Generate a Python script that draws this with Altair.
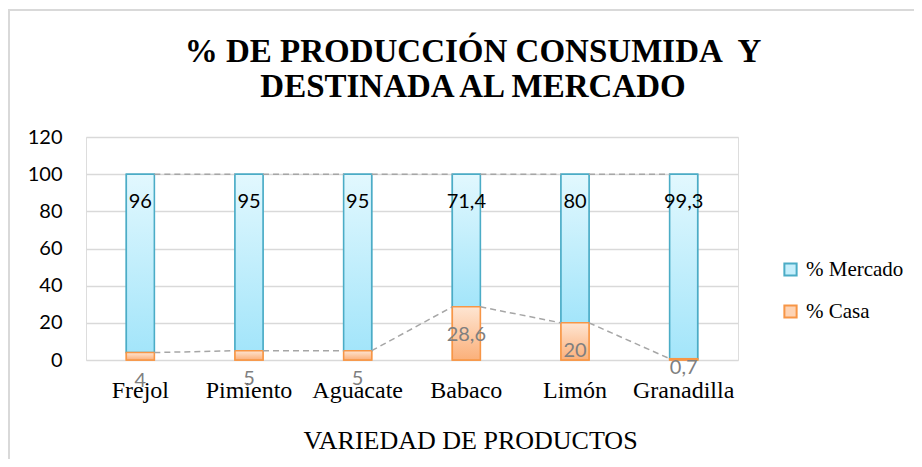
import altair as alt
import pandas as pd

productos = ["Frejol", "Pimiento", "Aguacate", "Babaco", "Limón", "Granadilla"]
mercado = [96, 95, 95, 71.4, 80, 99.3]
casa = [4, 5, 5, 28.6, 20, 0.7]
series = ["% Mercado", "% Casa"]
titulo = ["% DE PRODUCCIÓN CONSUMIDA \u00a0Y", "DESTINADA AL MERCADO"]
y_ticks = [0, 20, 40, 60, 80, 100, 120]

df = pd.DataFrame({"producto": productos, "mercado": mercado, "casa": casa})
df["total"] = (df["mercado"] + df["casa"]).round(1)

seg = pd.DataFrame({
    "producto": productos[:-1],
    "siguiente": productos[1:],
    "casa": casa[:-1],
    "casa_sig": casa[1:],
    "total": list(df["total"][:-1]),
    "total_sig": list(df["total"][1:]),
})

long = pd.DataFrame({
    "producto": productos * 2,
    "serie": [series[0]] * 6 + [series[1]] * 6,
    "y0": casa + [0] * 6,
    "y1": list(df["total"]) + casa,
})

W, H = 652, 223
SERIF = "Liberation Serif"
SANS = "Lato"

xaxis = alt.Axis(title="VARIEDAD DE PRODUCTOS", labelAngle=0,
                 labelFont=SERIF, labelFontSize=24, labelColor="black",
                 labelBaseline="alphabetic", labelPadding=37,
                 ticks=False, tickSize=0, domain=False, grid=False,
                 titleFont=SERIF, titleFontSize=26, titleFontWeight="normal",
                 titleColor="black", titleX=384, titleY=88,
                 titleAlign="center", titleBaseline="alphabetic")
xscale = alt.Scale(paddingInner=0, paddingOuter=0)
yscale = alt.Scale(domain=[0, 120], nice=False, zero=True)
yaxis = alt.Axis(title=None, values=y_ticks, labelOverlap=False,
                 labelFont=SANS, labelFontSize=20, labelColor="black",
                 labelPadding=24, ticks=False, tickSize=0, domain=False,
                 grid=True, gridColor="#d9d9d9", gridWidth=1.5)


def X(field="producto", **kw):
    return alt.X(f"{field}:N", sort=productos, scale=xscale, axis=xaxis, **kw)


def Y(field):
    return alt.Y(f"{field}:Q", scale=yscale, axis=yaxis)


one = pd.DataFrame({"a": [0]})
frame = alt.Chart(one).mark_rect(
    fillOpacity=0, stroke="#d9d9d9", strokeWidth=2
).encode(x=alt.value(-77), x2=alt.value(W + 300), y=alt.value(-127), y2=alt.value(H + 300))

title = alt.Chart(one).mark_text(
    text=titulo, font=SERIF, fontSize=33, fontWeight="bold", color="black",
    align="center", baseline="alphabetic", lineHeight=35
).encode(x=alt.value(387), y=alt.value(-75))

leg = alt.Legend(title=None, orient="none", legendX=694, legendY=122,
                 symbolType="square", symbolSize=150, symbolStrokeWidth=2,
                 labelFont=SERIF, labelFontSize=21, labelColor="black",
                 labelOffset=5, rowPadding=20, padding=0)

base = alt.Chart(long).mark_bar(size=28, strokeWidth=1.5).encode(
    x=X(),
    y=Y("y0"),
    y2="y1:Q",
    fill=alt.Fill("serie:N", scale=alt.Scale(domain=series, range=["#c6effc", "#fdd3b4"]), legend=leg),
    stroke=alt.Stroke("serie:N", scale=alt.Scale(domain=series, range=["#4bacc6", "#f79646"]), legend=leg),
)

grad_m = {"gradient": "linear", "x1": 0, "y1": 0, "x2": 0, "y2": 1,
          "stops": [{"offset": 0, "color": "#e2f8fe"}, {"offset": 1, "color": "#a3e5fa"}]}
grad_c = {"gradient": "linear", "x1": 0, "y1": 0, "x2": 0, "y2": 1,
          "stops": [{"offset": 0, "color": "#fee5d2"}, {"offset": 1, "color": "#fbb07a"}]}

bar_m = alt.Chart(df).mark_bar(size=28, fill=grad_m, stroke="#4bacc6", strokeWidth=1.5).encode(
    x=X(), y=Y("casa"), y2="total:Q")
bar_c = alt.Chart(df).mark_bar(size=28, fill=grad_c, stroke="#f79646", strokeWidth=1.5).encode(
    x=X(), y=Y("casa"))


def serie_line(ycol, y2col):
    return alt.Chart(seg).mark_rule(color="#a6a6a6", strokeWidth=1.5, strokeDash=[6, 4],
                                    xOffset=14, x2Offset=-14).encode(
        x=X(bandPosition=0.5),
        x2=alt.X2("siguiente:N", bandPosition=0.5),
        y=Y(ycol), y2=f"{y2col}:Q")


rule_top = serie_line("total", "total_sig")
rule_casa = serie_line("casa", "casa_sig")

txt_m = alt.Chart(df).transform_calculate(
    lab="replace(toString(datum.mercado), '.', ',')"
).mark_text(font=SANS, fontSize=20, color="black", baseline="middle", dy=27.5).encode(
    x=X(), y=Y("total"), text="lab:N")


def casa_text(flt, dy):
    return alt.Chart(df).transform_filter(flt).transform_calculate(
        lab="replace(toString(datum.casa), '.', ',')"
    ).mark_text(font=SANS, fontSize=20, color="#7f7f7f", baseline="middle", dy=dy).encode(
        x=X(), y=Y("casa"), text="lab:N")


txt_c = casa_text("datum.casa >= 1", 28)
txt_c_small = casa_text("datum.casa < 1", 9)

chart = alt.layer(frame, title, base, bar_m, bar_c, rule_top, rule_casa,
                  txt_m, txt_c, txt_c_small).properties(
    width=W, height=H,
    autosize=alt.AutoSizeParams(type="none"),
    padding={"left": 78, "top": 129, "right": 176, "bottom": 99},
).configure_view(stroke=None).configure(background="white")

chart.save("out.html", embed_options={"renderer": "svg", "actions": False})
